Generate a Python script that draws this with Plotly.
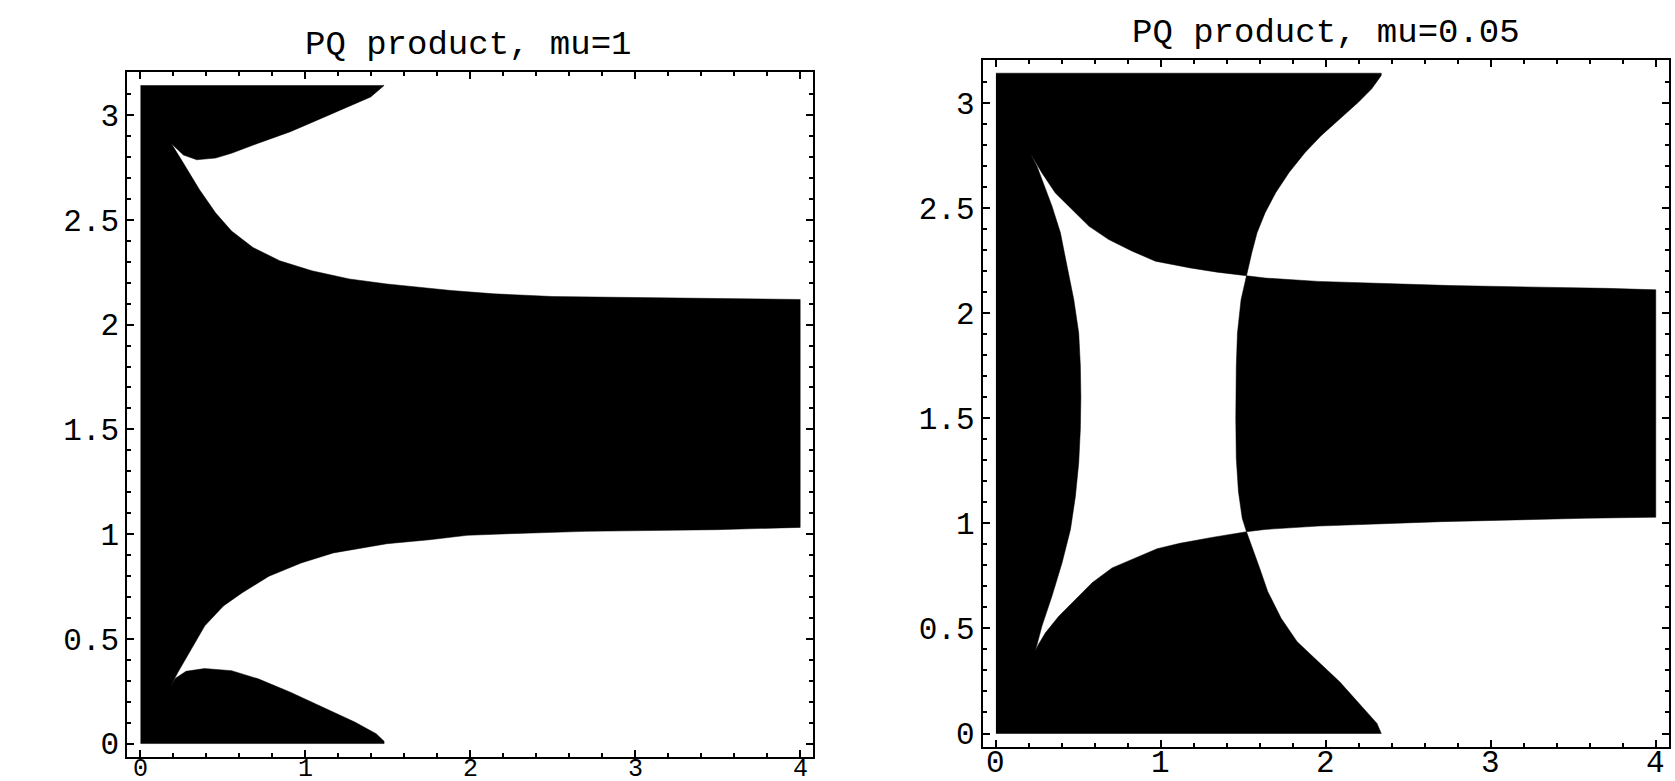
import plotly.graph_objects as go

PI_TOP = 3.1416

# ---------------- Left panel: PQ product, mu=1 ----------------
# top wedge lower boundary (from right end to cusp)
L_top_wedge_x = [1.477, 1.396, 1.234, 1.071, 0.909, 0.714, 0.552, 0.455, 0.341, 0.260, 0.188]
L_top_wedge_y = [3.1416, 3.087, 3.032, 2.976, 2.921, 2.866, 2.818, 2.795, 2.787, 2.810, 2.863]
# band upper edge (from top cusp to x=4)
L_band_up_x = [0.188, 0.260, 0.357, 0.455, 0.552, 0.682, 0.844, 1.039, 1.266, 1.494, 1.883, 2.143, 2.500, 3.133, 4.0]
L_band_up_y = [2.863, 2.771, 2.645, 2.534, 2.447, 2.368, 2.305, 2.257, 2.218, 2.194, 2.163, 2.147, 2.134, 2.128, 2.120]
# band lower edge (from bottom cusp to x=4)
L_band_lo_x = [0.180, 0.227, 0.308, 0.390, 0.503, 0.617, 0.779, 0.974, 1.169, 1.494, 1.753, 1.981, 2.240, 2.695, 3.490, 4.0]
L_band_lo_y = [0.270, 0.340, 0.451, 0.562, 0.657, 0.720, 0.799, 0.862, 0.910, 0.954, 0.973, 0.994, 1.002, 1.013, 1.021, 1.032]
# bottom wedge upper boundary (from cusp to right end)
L_bot_wedge_x = [0.180, 0.210, 0.276, 0.388, 0.552, 0.714, 0.909, 1.104, 1.299, 1.429, 1.477, 1.477]
L_bot_wedge_y = [0.270, 0.310, 0.345, 0.358, 0.348, 0.309, 0.245, 0.174, 0.103, 0.047, 0.011, 0.0]

# ---------------- Right panel: PQ product, mu=0.05 ----------------
# left strip right edge (bottom cusp -> top cusp)
R_strip_x = [0.239, 0.249, 0.279, 0.340, 0.401, 0.452, 0.482, 0.502, 0.512, 0.515, 0.512, 0.502, 0.472, 0.431, 0.391, 0.340, 0.279, 0.249, 0.209]
R_strip_y = [0.392, 0.423, 0.511, 0.654, 0.812, 0.971, 1.129, 1.288, 1.450, 1.600, 1.748, 1.906, 2.065, 2.224, 2.382, 2.509, 2.636, 2.699, 2.759]
# top black lower boundary (top cusp -> top crossing)
R_top_lo_x = [0.209, 0.255, 0.279, 0.360, 0.461, 0.563, 0.684, 0.826, 0.967, 1.179, 1.341, 1.519]
R_top_lo_y = [2.759, 2.700, 2.667, 2.572, 2.493, 2.414, 2.350, 2.295, 2.247, 2.215, 2.195, 2.178]
# top black right boundary (top crossing -> top edge)
R_top_rt_x = [1.519, 1.551, 1.583, 1.632, 1.696, 1.777, 1.874, 1.971, 2.084, 2.197, 2.278, 2.336, 2.336]
R_top_rt_y = [2.178, 2.287, 2.382, 2.478, 2.573, 2.669, 2.764, 2.844, 2.924, 3.003, 3.067, 3.131, 3.1416]
# bottom black upper boundary (bottom cusp -> bottom crossing)
R_bot_up_x = [0.239, 0.255, 0.300, 0.381, 0.482, 0.583, 0.704, 0.846, 0.977, 1.115, 1.309, 1.519]
R_bot_up_y = [0.392, 0.420, 0.479, 0.558, 0.637, 0.717, 0.788, 0.836, 0.879, 0.905, 0.933, 0.960]
# bottom black right boundary (bottom edge -> bottom crossing)
R_bot_rt_x = [2.336, 2.310, 2.213, 2.084, 1.955, 1.826, 1.729, 1.648, 1.599, 1.551, 1.519]
R_bot_rt_y = [0.0, 0.048, 0.135, 0.246, 0.341, 0.437, 0.548, 0.675, 0.786, 0.897, 0.960]
# band upper / lower edges right of the crossings
R_band_up_x = [1.519, 1.632, 1.955, 2.278, 2.763, 3.700, 4.0]
R_band_up_y = [2.178, 2.167, 2.151, 2.143, 2.131, 2.118, 2.111]
R_band_lo_x = [1.519, 1.632, 1.955, 2.278, 2.698, 3.570, 4.0]
R_band_lo_y = [0.960, 0.971, 0.987, 0.997, 1.008, 1.024, 1.029]
# right side of the white centre region (top crossing -> bottom crossing)
R_mid_x = [1.519, 1.486, 1.464, 1.457, 1.454, 1.457, 1.470, 1.493, 1.519]
R_mid_y = [2.178, 2.064, 1.904, 1.745, 1.500, 1.310, 1.151, 1.024, 0.960]

X_TICKS = [0, 1, 2, 3, 4]
X_TICKTEXT = ["0", "1", "2", "3", "4"]
Y_TICKS = [0, 0.5, 1, 1.5, 2, 2.5, 3]
Y_TICKTEXT = ["0", "0.5", "1", "1.5", "2", "2.5", "3"]
TITLES = ["PQ product, mu=1", "PQ product, mu=0.05"]

# ---- build polygons ----
left_x = ([0.0, L_bot_wedge_x[-1]] + L_bot_wedge_x[::-1] + L_band_lo_x + [4.0] +
          L_band_up_x[::-1] + L_top_wedge_x[::-1] + [0.0])
left_y = ([0.0, 0.0] + L_bot_wedge_y[::-1] + L_band_lo_y + [L_band_up_y[-1]] +
          L_band_up_y[::-1] + L_top_wedge_y[::-1] + [PI_TOP])

r1_x = ([0.0] + R_bot_rt_x + R_bot_up_x[::-1] + R_strip_x + R_top_lo_x + R_top_rt_x + [0.0])
r1_y = ([0.0] + R_bot_rt_y + R_bot_up_y[::-1] + R_strip_y + R_top_lo_y + R_top_rt_y + [PI_TOP])

r2_x = R_band_lo_x + R_band_up_x[::-1] + R_mid_x
r2_y = R_band_lo_y + R_band_up_y[::-1] + R_mid_y

FONT = "Liberation Mono, DejaVu Sans Mono, monospace"
TICKFONT = dict(family=FONT, size=31, color="black")

fig = go.Figure()
poly = dict(mode="lines", fill="toself", fillcolor="black",
            line=dict(color="black", width=0.5), hoverinfo="skip", showlegend=False)
fig.add_trace(go.Scatter(x=left_x, y=left_y, xaxis="x", yaxis="y", **poly))
fig.add_trace(go.Scatter(x=r1_x, y=r1_y, xaxis="x2", yaxis="y2", **poly))
fig.add_trace(go.Scatter(x=r2_x, y=r2_y, xaxis="x2", yaxis="y2", **poly))

def xax(domain, anchor):
    return dict(domain=domain, anchor=anchor, range=[-0.08, 4.08], automargin=False,
                showline=True, linecolor="black", linewidth=2, mirror="ticks",
                ticks="inside", ticklen=7, tickwidth=1.5, tickcolor="black",
                tickmode="array", tickvals=X_TICKS, showticklabels=False,
                minor=dict(ticks="inside", ticklen=4, tickwidth=1.5, tickcolor="black",
                           tickmode="linear", tick0=0, dtick=0.2),
                showgrid=False, zeroline=False)

def yax(domain, anchor):
    return dict(domain=domain, anchor=anchor, range=[-0.0628, 3.2044], automargin=False,
                showline=True, linecolor="black", linewidth=2, mirror="ticks",
                ticks="inside", ticklen=7, tickwidth=1.5, tickcolor="black",
                tickmode="array", tickvals=Y_TICKS, ticktext=Y_TICKTEXT,
                minor=dict(ticks="inside", ticklen=4, tickwidth=1.5, tickcolor="black",
                           tickmode="linear", tick0=0, dtick=0.1),
                showgrid=False, zeroline=False, ticklabelstandoff=0,
                tickfont=TICKFONT)

annotations = [
    dict(text=TITLES[0], x=468.5 / 1675, y=1 - 45 / 781, xref="paper", yref="paper",
         xanchor="center", yanchor="middle", showarrow=False,
         font=dict(family=FONT, size=34, color="black")),
    dict(text=TITLES[1], x=1326 / 1675, y=1 - 33 / 781, xref="paper", yref="paper",
         xanchor="center", yanchor="middle", showarrow=False,
         font=dict(family=FONT, size=34, color="black")),
]
# x tick labels, placed on each panel's own x scale
for xref, ypix, fsize in (("x", 769, 25), ("x2", 763, 31)):
    for v, t in zip(X_TICKS, X_TICKTEXT):
        annotations.append(dict(text=t, x=v, xref=xref, y=1 - ypix / 781, yref="paper",
                                xanchor="center", yanchor="middle", showarrow=False,
                                font=dict(family=FONT, size=fsize, color="black")))

fig.update_layout(
    width=1675, height=781, autosize=False,
    margin=dict(l=0, r=0, t=0, b=0, pad=0, autoexpand=False),
    paper_bgcolor="white", plot_bgcolor="white",
    showlegend=False,
    xaxis=xax([0.0760, 0.4856], "y"),
    yaxis=yax([0.0311, 0.9074], "x"),
    xaxis2=xax([0.5867, 0.9964], "y2"),
    yaxis2=yax([0.0439, 0.9232], "x2"),
    annotations=annotations,
)

fig.write_html("out.html", config={"displayModeBar": False},
               post_script="document.body.style.margin='0px';document.body.style.overflow='hidden';")
